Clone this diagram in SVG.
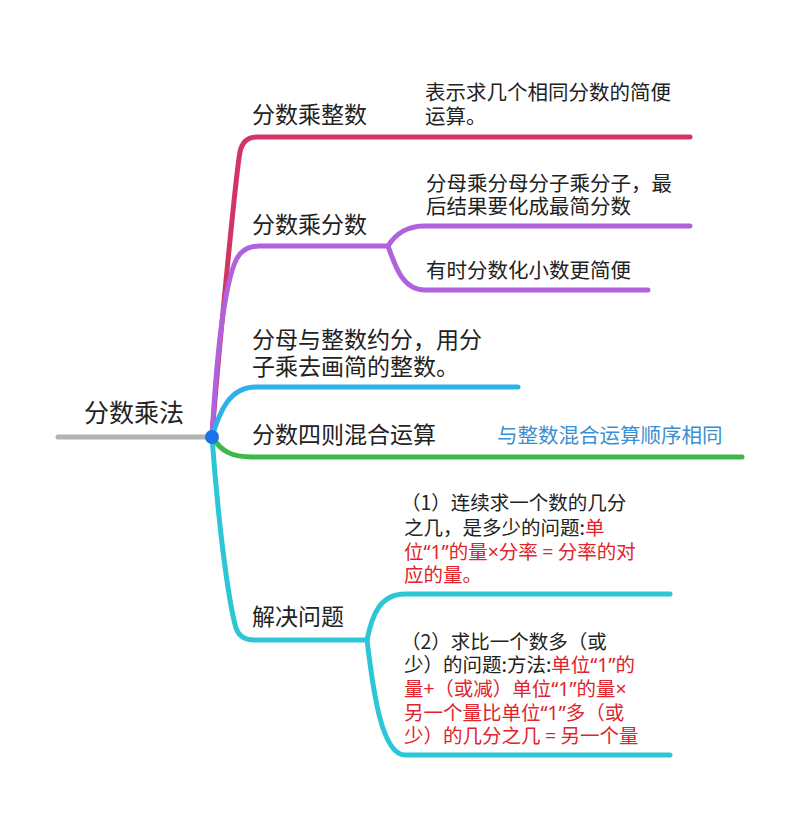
<svg xmlns="http://www.w3.org/2000/svg" width="800" height="815" viewBox="0 0 800 815">
<style>
text{font-family:"Noto Sans CJK SC","Noto Sans",sans-serif;fill:#222}
.main{font-size:23px}
.leaf{font-size:20.5px}
.leaf2{font-size:19.5px}
.red{fill:#e0242c}
.lat{font-family:"Noto Sans","DejaVu Sans",sans-serif}
.note{fill:#3b8fd0;font-size:20.5px}
.c{fill:none;stroke-width:5;stroke-linecap:round;stroke-linejoin:round}
.crim{stroke:#d03563}
.pur{stroke:#b062dc}
.blu{stroke:#2fb0ea}
.grn{stroke:#3db94b}
.tea{stroke:#2cc6d6}
</style>
<rect width="800" height="815" fill="#fff"/>
<g id="connectors">
<path class="c" d="M58,437 L212,437" stroke="#b3b3b3"/>
<path class="c crim" d="M212,437 C216,380 236,172 240,152 Q243,137 257,137 L690,137"/>
<path class="c pur" d="M212,437 C218,330 228,262 242,252 Q248,246 260,246 L388,246"/>
<path class="c pur" d="M388,246 C395,235 405,226 425,226 L690,226"/>
<path class="c pur" d="M388,246 C395,265 402,290 425,290 L648,290"/>
<path class="c blu" d="M212,437 C220,410 230,387 256,387 L518,387"/>
<path class="c grn" d="M212,437 C222,452 232,457 252,457 L742,457"/>
<path class="c tea" d="M212,437 C218,520 228,600 236,628 Q240,640 254,640 L367,640"/>
<path class="c tea" d="M367,640 C372,615 380,594 405,594 L670,594"/>
<path class="c tea" d="M367,640 C372,680 380,755 405,755 L670,755"/>
</g>
<g id="root">
<circle cx="212" cy="437" r="7" fill="#1a73e8"/>
<text x="84" y="422" font-size="25">分数乘法</text>
</g>
<g id="n1">
<text class="main" x="252" y="123">分数乘整数</text>
</g>
<g id="n1a">
<text class="leaf" x="425" y="100">表示求几个相同分数的简便<tspan x="425" dy="24">运算。</tspan></text>
</g>
<g id="n2">
<text class="main" x="252" y="233">分数乘分数</text>
</g>
<g id="n2a">
<text class="leaf" x="426" y="191">分母乘分母分子乘分子，最<tspan x="426" dy="23">后结果要化成最简分数</tspan></text>
</g>
<g id="n2b">
<text class="leaf" x="426" y="278">有时分数化小数更简便</text>
</g>
<g id="n3">
<text class="main" x="252" y="348">分母与整数约分，用分<tspan x="252" dy="27">子乘去画简的整数。</tspan></text>
</g>
<g id="n4">
<text class="main" x="252" y="443">分数四则混合运算</text>
</g>
<g id="n4a">
<text class="note" x="497" y="443">与整数混合运算顺序相同</text>
</g>
<g id="n5">
<text class="main" x="252" y="625">解决问题</text>
</g>
<g id="n5a">
<text class="leaf2" x="401" y="510">（1）连续求一个数的几分<tspan x="404" dy="25">之几，是多少的问题:</tspan><tspan class="red">单</tspan><tspan class="red" x="404" dy="24">位<tspan class="lat">“1”</tspan>的量<tspan class="lat">×</tspan>分率 <tspan class="lat">=</tspan> 分率的对</tspan><tspan class="red" x="404" dy="23">应的量。</tspan></text>
</g>
<g id="n5b">
<text class="leaf2" x="401" y="649">（2）求比一个数多（或<tspan x="404" dy="23">少）的问题:方法:</tspan><tspan class="red">单位<tspan class="lat">“1”</tspan>的</tspan><tspan class="red" x="404" dy="24">量+（或减）单位<tspan class="lat">“1”</tspan>的量<tspan class="lat">×</tspan></tspan><tspan class="red" x="404" dy="24">另一个量比单位<tspan class="lat">“1”</tspan>多（或</tspan><tspan class="red" x="404" dy="23">少）的几分之几 <tspan class="lat">=</tspan> 另一个量</tspan></text>
</g>
</svg>
